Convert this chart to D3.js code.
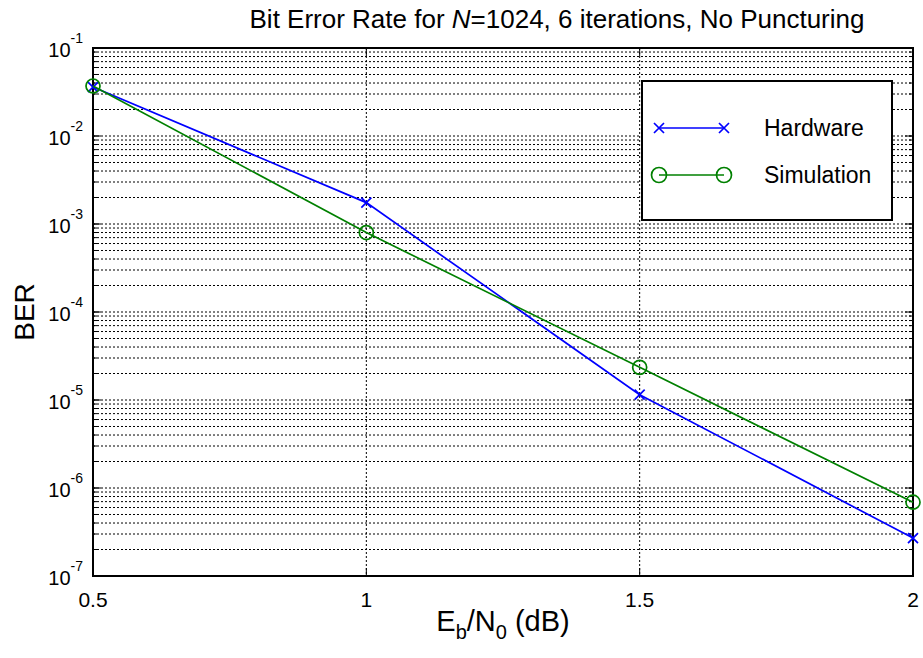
<!DOCTYPE html>
<meta charset="utf-8">
<style>
  body { margin: 0; background: #fff; }
  text { font-family: "Liberation Sans", Arial, sans-serif; fill: #000; }
  .grid line { stroke: #000; stroke-width: 1; stroke-dasharray: 2,2; }
</style>
<svg width="923" height="658"></svg>
<script src="https://d3js.org/d3.v7.min.js"></script>
<script>

// Eb/N0 points (dB)
var ebno = [0.5, 1, 1.5, 2];
// BER
var hardware = [3.6e-2, 1.75e-3, 1.15e-5, 2.7e-7];
var simulation = [3.7e-2, 8.0e-4, 2.35e-5, 6.9e-7];
// axis ticks
var xTicks = [0.5, 1, 1.5, 2];
var yExponents = [-1, -2, -3, -4, -5, -6, -7];
var seriesNames = ["Hardware", "Simulation"];

var svg = d3.select("svg"),
    margin = { top: 48, right: 10, bottom: 82, left: 93 },
    width = +svg.attr("width") - margin.left - margin.right,
    height = +svg.attr("height") - margin.top - margin.bottom,
    g = svg.append("g").attr("transform", "translate(" + margin.left + "," + margin.top + ")");

var x = d3.scaleLinear().domain([0.5, 2]).range([0, width]);
var y = d3.scaleLog().domain([1e-7, 1e-1]).range([height, 0]);

// minor + major log grid values
var yGrid = [];
yExponents.slice(1).forEach(function (e) {
    for (var m = 1; m < 10; m++) yGrid.push(m * Math.pow(10, e));
});

var grid = g.append("g").attr("class", "grid");
grid.selectAll(".hg")
    .data(yGrid)
    .enter().append("line")
    .attr("x1", 0).attr("x2", width)
    .attr("y1", function (d) { return y(d); })
    .attr("y2", function (d) { return y(d); });
grid.selectAll(".vg")
    .data(xTicks.slice(1, -1))
    .enter().append("line")
    .attr("y1", 0).attr("y2", height)
    .attr("x1", function (d) { return x(d); })
    .attr("x2", function (d) { return x(d); });

// tick marks (inside, both sides)
var yMajor = yExponents.map(function (e) { return Math.pow(10, e); });
function tickMarks(sel, vals, len, horiz) {
    sel.selectAll(null).data(vals).enter().append("line")
        .attr("stroke", "#000").attr("stroke-width", 1)
        .each(function (d) {
            var t = d3.select(this);
            if (horiz) {
                t.attr("y1", y(d)).attr("y2", y(d));
                t.attr("x1", 0).attr("x2", len);
                g.append("line").attr("stroke", "#000")
                    .attr("y1", y(d)).attr("y2", y(d))
                    .attr("x1", width).attr("x2", width - len);
            } else {
                t.attr("x1", x(d)).attr("x2", x(d));
                t.attr("y1", height).attr("y2", height - len);
                g.append("line").attr("stroke", "#000")
                    .attr("x1", x(d)).attr("x2", x(d))
                    .attr("y1", 0).attr("y2", len);
            }
        });
}
tickMarks(g, yGrid, 4, true);
tickMarks(g, yMajor, 8, true);
tickMarks(g, xTicks, 8, false);

// box
g.append("rect")
    .attr("width", width).attr("height", height)
    .attr("fill", "none").attr("stroke", "#000").attr("stroke-width", 2);

// y tick labels 10^n
var yl = g.selectAll(".ylab")
    .data(yExponents)
    .enter().append("text")
    .attr("text-anchor", "end")
    .attr("x", -10)
    .attr("y", function (d) { return y(Math.pow(10, d)) + 9; })
    .style("font-size", "20px");
yl.append("tspan").text("10");
yl.append("tspan").attr("dy", -14).style("font-size", "14px")
    .text(function (d) { return "-" + Math.abs(d); });

// x tick labels
g.selectAll(".xlab")
    .data(xTicks)
    .enter().append("text")
    .attr("text-anchor", "middle")
    .attr("x", function (d) { return x(d); })
    .attr("y", height + 31)
    .style("font-size", "21px")
    .text(function (d) { return d; });

// lines
var line = d3.line()
    .x(function (d) { return x(d[0]); })
    .y(function (d) { return y(d[1]); });

var hwPts = ebno.map(function (e, i) { return [e, hardware[i]]; });
var simPts = ebno.map(function (e, i) { return [e, simulation[i]]; });

g.append("path").datum(hwPts)
    .attr("fill", "none").attr("stroke", "#0000ff").attr("stroke-width", 1.7)
    .attr("d", line);
g.selectAll(".hx").data(hwPts).enter().append("path")
    .attr("transform", function (d) { return "translate(" + x(d[0]) + "," + y(d[1]) + ")"; })
    .attr("d", "M-5,-5L5,5M-5,5L5,-5")
    .attr("stroke", "#0000ff").attr("stroke-width", 1.7);

g.append("path").datum(simPts)
    .attr("fill", "none").attr("stroke", "#008000").attr("stroke-width", 1.7)
    .attr("d", line);
g.selectAll(".so").data(simPts).enter().append("circle")
    .attr("cx", function (d) { return x(d[0]); })
    .attr("cy", function (d) { return y(d[1]); })
    .attr("r", 7)
    .attr("fill", "none").attr("stroke", "#008000").attr("stroke-width", 1.7);

// legend
var lg = svg.append("g").attr("transform", "translate(642,81)");
lg.append("rect").attr("width", 250).attr("height", 139)
    .attr("fill", "#fff").attr("stroke", "#000").attr("stroke-width", 2);
var rows = lg.selectAll(".row").data(seriesNames).enter().append("g")
    .attr("transform", function (d, i) { return "translate(0," + (47 + i * 47) + ")"; });
rows.append("line").attr("x1", 17).attr("x2", 82)
    .attr("stroke", function (d, i) { return i ? "#008000" : "#0000ff"; })
    .attr("stroke-width", 1.7);
rows.each(function (d, i) {
    var r = d3.select(this);
    [17, 82].forEach(function (px) {
        if (i === 0) {
            r.append("path").attr("transform", "translate(" + px + ",0)")
                .attr("d", "M-5,-5L5,5M-5,5L5,-5")
                .attr("stroke", "#0000ff").attr("stroke-width", 1.7);
        } else {
            r.append("circle").attr("cx", px).attr("r", 7.5)
                .attr("fill", "none").attr("stroke", "#008000").attr("stroke-width", 1.7);
        }
    });
});
rows.append("text").attr("x", 122).attr("y", 8)
    .style("font-size", "23px")
    .text(function (d) { return d; });

// title
var title = svg.append("text")
    .attr("x", 557).attr("y", 28)
    .attr("text-anchor", "middle")
    .style("font-size", "26px");
title.append("tspan").text("Bit Error Rate for  ");
title.append("tspan").style("font-style", "italic").text("N");
title.append("tspan").text("=1024, 6 iterations, No Puncturing");

// axis labels
svg.append("text")
    .attr("transform", "translate(34," + (margin.top + height / 2) + ") rotate(-90)")
    .attr("text-anchor", "middle")
    .style("font-size", "28px")
    .text("BER");

var xl = svg.append("text")
    .attr("x", margin.left + width / 2).attr("y", 631)
    .attr("text-anchor", "middle")
    .style("font-size", "29px");
xl.append("tspan").text("E");
xl.append("tspan").attr("dy", 8).style("font-size", "20px").text("b");
xl.append("tspan").attr("dy", -8).text("/N");
xl.append("tspan").attr("dy", 8).style("font-size", "20px").text("0");
xl.append("tspan").attr("dy", -8).text(" (dB)");

</script>
